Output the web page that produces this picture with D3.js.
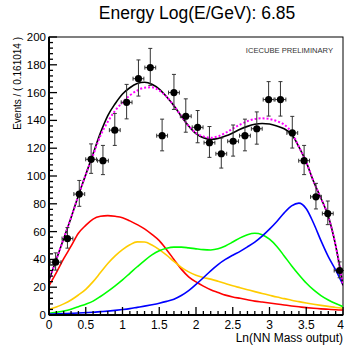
<!DOCTYPE html>
<html>
<head>
<meta charset="utf-8">
<script src="https://cdn.jsdelivr.net/npm/d3@7"></script>
<style>
  html, body { margin: 0; padding: 0; background: #fff; }
  svg { display: block; font-family: "Liberation Sans", Arial, Helvetica, sans-serif; }
</style>
</head>
<body>
<div id="chart"></div>
<script>
// ---------- data ----------
const titleText = "Energy Log(E/GeV): 6.85";
const xLabel = "Ln(NN Mass output)";
const yLabel = "Events / ( 0.161014 )";
const watermark = "ICECUBE PRELIMINARY";

const xTicks = [0, 0.5, 1, 1.5, 2, 2.5, 3, 3.5, 4];
const xTickLabels = ["0", "0.5", "1", "1.5", "2", "2.5", "3", "3.5", "4"];
const yTicks = [0, 20, 40, 60, 80, 100, 120, 140, 160, 180, 200];
const binWidth = 0.161014;

const binCenters = [0.090, 0.251, 0.412, 0.573, 0.734, 0.895, 1.056, 1.217, 1.378, 1.539,
  1.700, 1.861, 2.022, 2.183, 2.344, 2.505, 2.666, 2.827, 2.988, 3.149,
  3.310, 3.471, 3.632, 3.793, 3.954];
const counts = [38, 55, 87, 112, 111, 133, 153, 170, 178, 129,
  160, 143, 135, 124, 116, 125, 129, 134, 155, 155,
  131, 111, 85, 73, 32];
const errLo = [5.7, 6.9, 8.8, 10.1, 10.0, 11.0, 11.9, 12.5, 12.8, 10.9,
  12.1, 11.5, 11.1, 10.6, 10.3, 10.7, 10.9, 11.1, 11.9, 11.9,
  10.9, 10.0, 8.7, 8.0, 5.2];
const errHi = [6.7, 7.9, 9.8, 11.1, 11.0, 12.0, 12.9, 13.5, 13.8, 11.9,
  13.1, 12.5, 12.1, 11.6, 11.3, 11.7, 11.9, 12.1, 12.9, 12.9,
  11.9, 11.0, 9.7, 9.0, 6.2];

const curveX = [0.0, 0.1, 0.2, 0.3, 0.4, 0.5, 0.6, 0.7, 0.8, 0.9,
  1.0, 1.1, 1.2, 1.3, 1.4, 1.5, 1.6, 1.7, 1.8, 1.9,
  2.0, 2.1, 2.2, 2.3, 2.4, 2.5, 2.6, 2.7, 2.8, 2.9,
  3.0, 3.1, 3.2, 3.3, 3.4, 3.5, 3.6, 3.7, 3.8, 3.9, 4.0];

const redComp = [21, 30.5, 40.5, 49.5, 58.8, 64.5, 69, 71, 71.5, 71,
  70, 67.7, 65, 62, 58, 53.5, 47, 40, 33, 27.5,
  23.8, 20.8, 18.2, 16.2, 14.3, 13, 12, 11, 10, 9.3,
  8.6, 7.9, 7.2, 6.5, 5.9, 5.3, 4.8, 4.4, 4.1, 3.8, 3.6];
const orangeComp = [4, 5.8, 8, 10.8, 14.4, 18.5, 24, 30.5, 37, 42.5,
  47, 50.5, 52.6, 52.5, 50.3, 47, 43, 38.5, 34.3, 31,
  28.6, 27, 25.8, 24.3, 22.7, 21, 19.6, 18.2, 16.8, 15.5,
  14.2, 12.9, 11.8, 10.6, 9.6, 8.6, 7.7, 6.9, 6.2, 5.4, 4.8];
const greenComp = [1.2, 2, 2.9, 4.2, 6, 7.8, 10, 13.3, 17, 21,
  25.3, 30, 34.7, 39.2, 43.2, 46.2, 48, 48.8, 48.8, 48.3,
  47.6, 47, 46.8, 47.6, 49.7, 52.5, 55.5, 57.8, 58.8, 57.8,
  54.5, 49.3, 42.5, 35.5, 29, 23, 18, 14, 10.8, 8.2, 6];
const blueComp = [0.6, 0.8, 1, 1.2, 1.4, 1.7, 2, 2.4, 2.8, 3.3,
  3.9, 4.6, 5.5, 6.4, 7.4, 8.5, 9.8, 11.4, 14, 17.5,
  22, 26.8, 31.8, 36.3, 40, 43, 45.8, 49, 52.5, 56.8,
  61.8, 67.3, 73.5, 78.5, 80.5, 76.5, 66, 53.5, 42, 32.4, 21.6];
const totalFit = [25, 40, 55, 70, 86, 101, 116, 131, 143.5, 152,
  159, 163.5, 166.5, 167.4, 166, 162.5, 157, 150.5, 143, 136,
  130.5, 127.5, 126.4, 127, 128.7, 131, 133.6, 135.7, 137.2, 137.8,
  137.4, 136, 134, 130, 121, 110, 96, 84, 71, 50, 21];
const altFit = [25, 40, 55, 70, 86, 101, 115, 129, 139, 147,
  153, 158, 161.5, 163.5, 163.8, 161.5, 157, 150.5, 143, 136,
  131, 128.5, 127.5, 128.5, 131, 134, 137, 139.5, 141, 141.5,
  141, 139.5, 137, 131.5, 121, 110, 96, 84, 71, 50, 21];

const components = [
  { name: "red", values: redComp, color: "#ff0000" },
  { name: "orange", values: orangeComp, color: "#ffcc00" },
  { name: "green", values: greenComp, color: "#00ff00" },
  { name: "blue", values: blueComp, color: "#0000ff" }
];

// ---------- layout ----------
const W = 344, H = 350;
const mL = 49, mR = 343, mT = 37, mB = 315;

const svg = d3.select("#chart").append("svg")
  .attr("width", W).attr("height", H);

const x = d3.scaleLinear().domain([0, 4]).range([mL, mR]);
const y = d3.scaleLinear().domain([0, 200]).range([mB, mT]);

svg.append("defs").append("clipPath").attr("id", "plotclip")
  .append("rect").attr("x", mL).attr("y", mT)
  .attr("width", mR - mL).attr("height", mB - mT);

// title
svg.append("text").attr("x", 197).attr("y", 19)
  .attr("text-anchor", "middle").attr("font-size", 17.5)
  .attr("fill", "#000").text(titleText);

// frame
svg.append("rect").attr("x", mL).attr("y", mT)
  .attr("width", mR - mL).attr("height", mB - mT)
  .attr("fill", "none").attr("stroke", "#000").attr("stroke-width", 1);

// watermark
svg.append("text").attr("x", 333).attr("y", 53)
  .attr("text-anchor", "end").attr("font-size", 7.6)
  .attr("fill", "#333").text(watermark);

// curves
const plot = svg.append("g").attr("clip-path", "url(#plotclip)");
const lineGen = vals => d3.line()
  .x((d, i) => x(curveX[i]))
  .y(d => y(d))
  .curve(d3.curveMonotoneX)(vals);

components.forEach(c => {
  plot.append("path").attr("d", lineGen(c.values))
    .attr("fill", "none").attr("stroke", c.color).attr("stroke-width", 1.6);
});
plot.append("path").attr("d", lineGen(totalFit))
  .attr("fill", "none").attr("stroke", "#000").attr("stroke-width", 1.6);
plot.append("path").attr("d", lineGen(altFit))
  .attr("fill", "none").attr("stroke", "#ff00ff").attr("stroke-width", 2)
  .attr("stroke-dasharray", "2,2");

// data points
const pts = svg.append("g");
const halfBin = binWidth / 2;
binCenters.forEach((cx, i) => {
  const px = x(cx), py = y(counts[i]);
  const yLo = y(counts[i] - errLo[i]), yHi = y(counts[i] + errHi[i]);
  const xL = x(cx - halfBin) + 0.5, xR = x(cx + halfBin) - 0.5;
  const g = pts.append("g").attr("stroke", "#333").attr("stroke-width", 1);
  g.append("line").attr("x1", px).attr("x2", px).attr("y1", yLo).attr("y2", yHi);
  g.append("line").attr("x1", px - 2).attr("x2", px + 2).attr("y1", yLo).attr("y2", yLo);
  g.append("line").attr("x1", px - 2).attr("x2", px + 2).attr("y1", yHi).attr("y2", yHi);
  g.append("line").attr("x1", xL).attr("x2", xR).attr("y1", py).attr("y2", py);
  g.append("line").attr("x1", xL).attr("x2", xL).attr("y1", py - 2).attr("y2", py + 2);
  g.append("line").attr("x1", xR).attr("x2", xR).attr("y1", py - 2).attr("y2", py + 2);
  pts.append("circle").attr("cx", px).attr("cy", py).attr("r", 3.6).attr("fill", "#000");
});

// axes
const xAxisG = svg.append("g");
const xMinor = d3.range(0, 41).map(k => k / 10);
xMinor.forEach(v => {
  const major = Math.abs(v * 2 - Math.round(v * 2)) < 1e-6;
  xAxisG.append("line").attr("x1", x(v)).attr("x2", x(v))
    .attr("y1", mB).attr("y2", mB - (major ? 8 : 4))
    .attr("stroke", "#000").attr("stroke-width", 1.3);
});
xAxisG.append("line").attr("x1", mL).attr("x2", mR)
  .attr("y1", mB).attr("y2", mB).attr("stroke", "#000").attr("stroke-width", 2);
xTicks.forEach((v, i) => {
  const last = i === xTicks.length - 1;
  xAxisG.append("text").attr("x", last ? W : x(v)).attr("y", 329)
    .attr("text-anchor", last ? "end" : "middle").attr("font-size", 12)
    .attr("fill", "#000").text(xTickLabels[i]);
});
svg.append("text").attr("x", 343).attr("y", 342)
  .attr("text-anchor", "end").attr("font-size", 12)
  .attr("fill", "#000").text(xLabel);

const yAxisG = svg.append("g");
const yMinor = d3.range(0, 51).map(k => k * 4);
yMinor.forEach(v => {
  const major = v % 20 === 0;
  yAxisG.append("line").attr("x1", mL).attr("x2", mL + (major ? 8 : 4))
    .attr("y1", y(v)).attr("y2", y(v))
    .attr("stroke", "#000").attr("stroke-width", 1.3);
});
yAxisG.append("line").attr("x1", mL).attr("x2", mL)
  .attr("y1", mT).attr("y2", mB).attr("stroke", "#000").attr("stroke-width", 2);
yTicks.forEach(v => {
  yAxisG.append("text").attr("x", 46).attr("y", y(v) + 4)
    .attr("text-anchor", "end").attr("font-size", 11.5)
    .attr("fill", "#000").text(String(v));
});
svg.append("text")
  .attr("transform", `translate(21,${mT}) rotate(-90)`)
  .attr("text-anchor", "end").attr("font-size", 10)
  .attr("fill", "#000").text(yLabel);
</script>
</body>
</html>
